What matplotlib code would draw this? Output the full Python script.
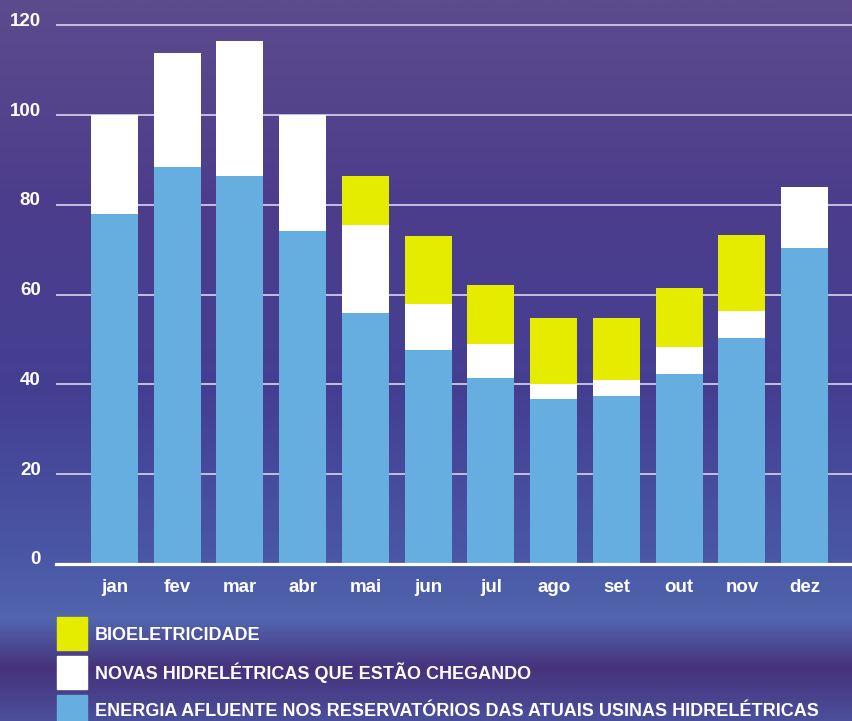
import numpy as np
import matplotlib
matplotlib.use('Agg')
import matplotlib.pyplot as plt
from matplotlib.colors import LinearSegmentedColormap
from matplotlib.patches import Rectangle
import matplotlib.transforms as mtransforms

months = ['jan', 'fev', 'mar', 'abr', 'mai', 'jun', 'jul', 'ago', 'set', 'out', 'nov', 'dez']
energia_afluente = [77.9, 88.5, 86.5, 74.2, 55.9, 47.7, 41.4, 36.7, 37.4, 42.3, 50.3, 70.4]
novas_hidreletricas = [22.1, 25.3, 30.0, 25.8, 19.6, 10.2, 7.6, 3.4, 3.6, 6.0, 6.0, 13.6]
bioeletricidade = [0, 0, 0, 0, 10.9, 15.2, 13.1, 14.7, 13.8, 13.2, 17.0, 0]
legend_labels = ['BIOELETRICIDADE',
                 'NOVAS HIDRELÉTRICAS QUE ESTÃO CHEGANDO',
                 'ENERGIA AFLUENTE NOS RESERVATÓRIOS DAS ATUAIS USINAS HIDRELÉTRICAS']
yticks = [0, 20, 40, 60, 80, 100, 120]

C_BLUE = '#66aedf'
C_WHITE = '#ffffff'
C_YELLOW = '#e5ec00'

W, H = 853, 721
fig = plt.figure(figsize=(W / 100, H / 100), dpi=100)

def fx(px):
    return px / W

def fy(py):
    return (H - py) / H

# background gradient
bg = fig.add_axes([0, 0, 1, 1], zorder=-10)
stops = [(0.0, '#5c4b8d'), (0.28, '#4c3d8c'), (0.55, '#443f92'), (0.78, '#4a58a6'),
         (0.86, '#5265ae'), (0.93, '#46327c'), (1.0, '#4b4f9a')]
cmap = LinearSegmentedColormap.from_list('bg', stops)
grad = np.linspace(0, 1, 400).reshape(-1, 1)
bg.imshow(grad, cmap=cmap, aspect='auto', extent=[0, 1, 1, 0])
bg.set_xlim(0, 1)
bg.set_ylim(1, 0)
bg.axis('off')

# main axes: left 56px, right 853px, y=0 at 564px, 4.49 px/unit
k = 4.49
y0 = 564
ytop = 122
ax = fig.add_axes([fx(56), fy(y0), 1 - fx(56), (ytop * k) / H])
ax.set_facecolor('none')
x = np.arange(len(months))
ax.set_xlim(-0.93, 11.77)
ax.set_ylim(0, ytop)

bw = 0.75
b1 = np.array(energia_afluente)
b2 = b1 + np.array(novas_hidreletricas)
ax.bar(x, energia_afluente, width=bw, color=C_BLUE, zorder=3)
ax.bar(x, novas_hidreletricas, width=bw, bottom=b1, color=C_WHITE, zorder=3)
ax.bar(x, bioeletricidade, width=bw, bottom=b2, color=C_YELLOW, zorder=3)

for v in yticks[1:]:
    ax.axhline(v, color='#cfc9e6', lw=1.3, zorder=1)

for s in ['top', 'right', 'left']:
    ax.spines[s].set_visible(False)
ax.spines['bottom'].set_color('white')
ax.spines['bottom'].set_linewidth(2.3)
ax.spines['bottom'].set_zorder(5)

ax.set_yticks(yticks)
ax.set_yticklabels([str(v) for v in yticks])
ax.set_xticks(x)
ax.set_xticklabels(months)
ax.tick_params(axis='y', length=0, pad=11, labelcolor='white', labelsize=13.5)
ax.tick_params(axis='x', length=0, pad=11, labelcolor='white', labelsize=13.5)
for lab in ax.get_yticklabels() + ax.get_xticklabels():
    lab.set_fontweight('bold')
    lab.set_family(['Liberation Sans', 'DejaVu Sans'])
off = mtransforms.ScaledTranslation(0, 6 / 100, fig.dpi_scale_trans)
for lab in ax.get_yticklabels():
    lab.set_transform(lab.get_transform() + off)

# legend
leg_colors = [C_YELLOW, C_WHITE, C_BLUE]
leg_tops = [617, 656, 695]
leg_centers = [636, 673, 711]
for lab, col, top, cy in zip(legend_labels, leg_colors, leg_tops, leg_centers):
    fig.add_artist(Rectangle((fx(57), fy(top + 33)), fx(87) - fx(57), 33 / H,
                             transform=fig.transFigure, color=col, zorder=5))
    fig.text(fx(95), fy(cy), lab, color='white', fontsize=13.0, fontweight='bold',
             family=['Liberation Sans', 'DejaVu Sans'],
             va='center', ha='left', zorder=6)

fig.savefig('out.png', dpi=100)
